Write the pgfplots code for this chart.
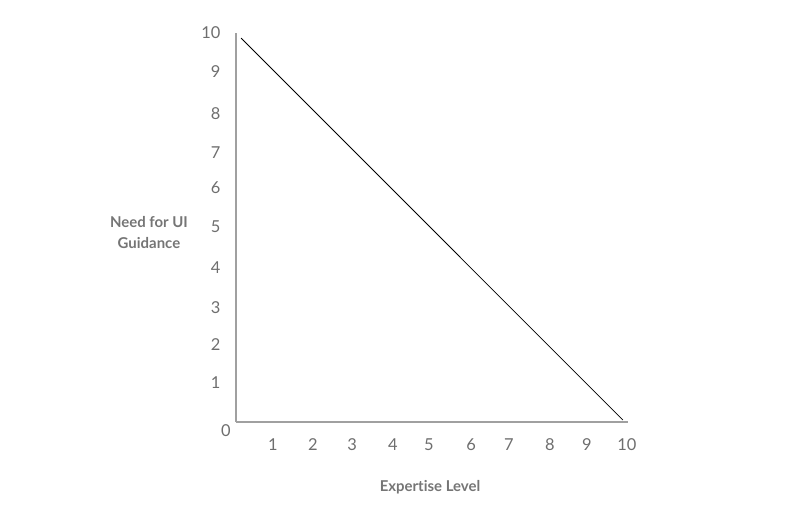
\documentclass[border=0pt]{standalone}
\usepackage{fontspec}
\setmainfont{Lato}[Ligatures=NoCommon]
\usepackage{pgfplots}
\pgfplotsset{compat=1.18}
\definecolor{axisgray}{HTML}{A0A0A0}
\definecolor{labelgray}{HTML}{757575}
\definecolor{tickgray}{HTML}{6E6E6E}
\begin{document}
\begin{tikzpicture}
\useasboundingbox (0,0) rectangle (800bp,515bp);
\begin{axis}[
    at={(236bp,93bp)}, anchor=origin,
    scale only axis, width=392bp, height=389bp,
    xmin=0, xmax=10, ymin=0, ymax=10,
    axis lines=left,
    axis line style={axisgray, line width=1.2pt, -},
    major tick length=0pt,
    clip=false,
    /pgf/number format/assume math mode=true,
    xtick={0.94,1.96,2.96,4.0,4.92,6.0,6.96,8.01,8.95,9.97},
    xticklabels={1,2,3,4,5,6,7,8,9,10},
    ytick={1.0,1.98,2.93,3.96,5.01,6.02,6.92,7.94,9.0,10.0},
    yticklabels={1,2,3,4,5,6,7,8,9,10},
    ticklabel style={font=\fontsize{16.5}{18}\selectfont, text=tickgray},
    xticklabel style={anchor=center, yshift=-23bp},
    yticklabel style={anchor=east, xshift=-12bp},
    xlabel={Expertise Level},
    ylabel={Need for UI\\Guidance},
    label style={font=\fontsize{15}{21}\selectfont\bfseries, text=labelgray},
    xlabel style={at={(axis description cs:0.495,-0.167)}, anchor=center},
    ylabel style={at={(axis description cs:-0.222,0.488)}, anchor=center, rotate=-90, align=center},
]
\addplot[black, line width=0.8pt] coordinates {(0.13,9.87) (9.87,0.05)};
\node[font=\fontsize{16.5}{18}\selectfont, text=tickgray] at (axis cs:-0.26,-0.23) {0};
\end{axis}
\end{tikzpicture}
\end{document}
